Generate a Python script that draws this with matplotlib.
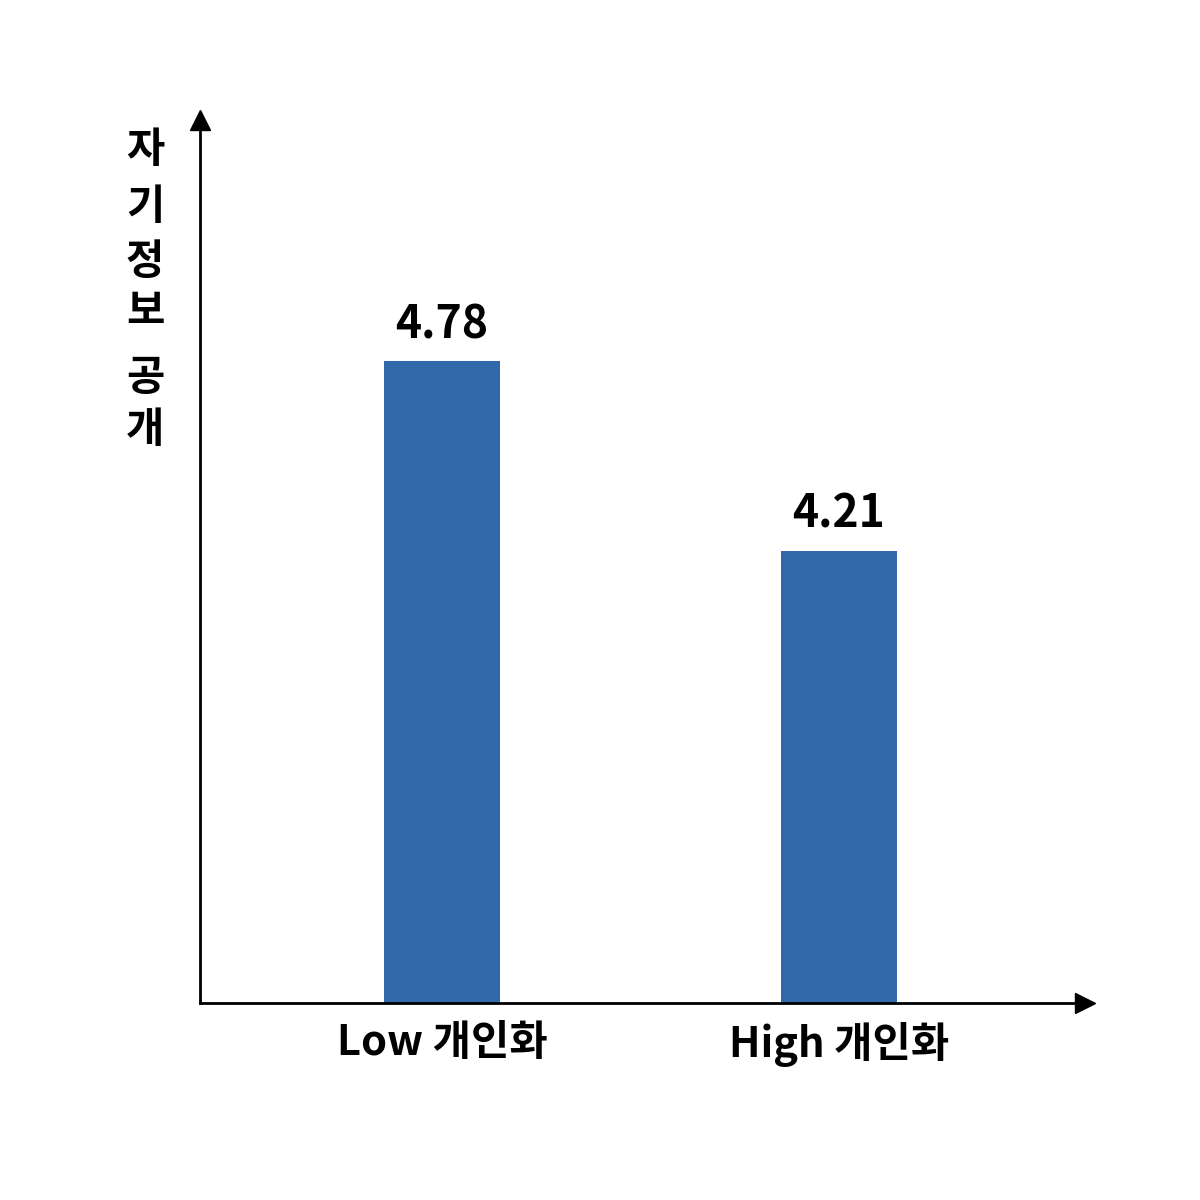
import matplotlib
matplotlib.use("Agg")
import matplotlib.pyplot as plt

plt.rcParams['font.family'] = ['Noto Sans CJK KR', 'DejaVu Sans']

categories = ["Low 개인화", "High 개인화"]
values = [4.78, 4.21]
ylabel_chars = ["자", "기", "정", "보", "공", "개"]
ylabel_y = [150, 207, 262, 312, 378, 430]

fig = plt.figure(figsize=(12, 12), dpi=100)
ax = fig.add_axes([200/1200, 1 - 1003/1200, 885/1200, 883/1200])
x = list(range(len(categories)))
ax.bar(x, values, width=0.292, color="#2f69aa", bottom=0)
ax.set_xlim(-0.61, 1.62)
ax.set_ylim(2.853, 5.505)
for xi, v in zip(x, values):
    ax.text(xi, v + 0.04, f"{v:.2f}", ha="center", va="bottom", fontsize=32, fontweight="bold")
ax.set_xticks(x)
ax.set_xticklabels(categories, fontsize=30, fontweight="bold")
ax.tick_params(length=0, pad=14)
ax.set_yticks([])
for s in ["top", "right"]:
    ax.spines[s].set_visible(False)
for s in ["left", "bottom"]:
    ax.spines[s].set_linewidth(2)
ax.plot(1, 0, ">k", transform=ax.transAxes, clip_on=False, markersize=14)
ax.plot(0, 1, "^k", transform=ax.transAxes, clip_on=False, markersize=14)
for ch, yy in zip(ylabel_chars, ylabel_y):
    fig.text(145/1200, 1 - yy/1200, ch, ha="center", va="center", fontsize=30, fontweight="bold")
fig.savefig("out.png")
